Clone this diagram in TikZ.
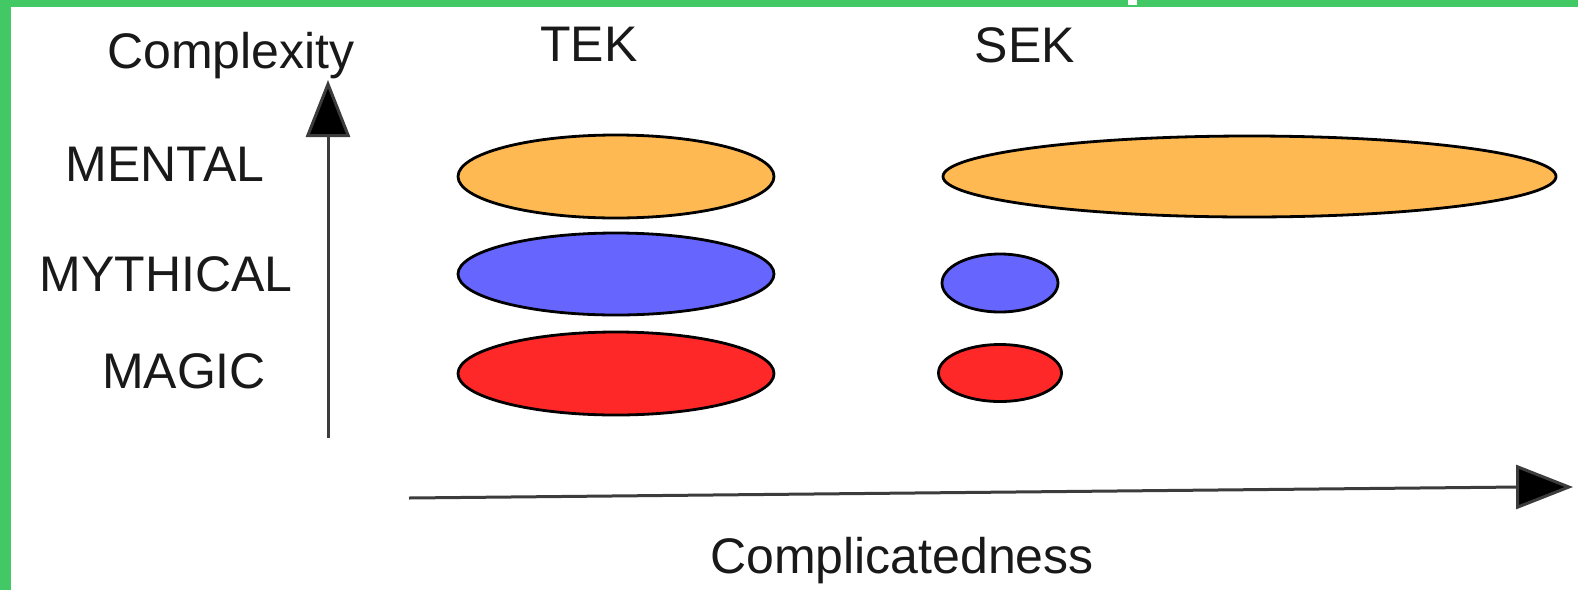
\documentclass[tikz,border=0pt]{standalone}
\usepackage{fontspec}
\setmainfont{Liberation Sans}
\usetikzlibrary{arrows.meta,shapes.geometric}
\definecolor{framegreen}{RGB}{66,201,101}
\definecolor{mentalorange}{RGB}{255,185,82}
\definecolor{mythblue}{RGB}{102,102,255}
\definecolor{magicred}{RGB}{255,40,40}
\definecolor{axisgray}{RGB}{60,60,60}
\tikzset{
  lbl/.style={inner sep=0pt, anchor=base, font=\fontsize{50}{60}\selectfont, text=black!90},
  blob/.style={ellipse, draw=black, line width=2.8pt, inner sep=0pt, minimum width=#1},
  axisline/.style={draw=axisgray, line width=3pt},
  axishead/.style={draw=axisgray, line width=3pt, -{Triangle[length=57pt,width=44pt,fill=black]}},
}
\begin{document}
\begin{tikzpicture}[x=1pt,y=-1pt]
\useasboundingbox (0,0) rectangle (1578,590);
\fill[white] (0,0) rectangle (1578,590);
% green frame (top and left)
\fill[framegreen] (0,0) rectangle (1578,7);
\fill[framegreen] (0,0) rectangle (11,590);
\fill[white] (1128,0) rectangle (1137,5);

% labels
\node[lbl] (complexity) at (231,68) {Complexity};
\node[lbl] (tek) at (589,61) {TEK};
\node[lbl] (sek) at (1025,62) {SEK};
\node[lbl] (mental) at (165,181) {MENTAL};
\node[lbl] (mythical) at (166,291) {MYTHICAL};
\node[lbl] (magic) at (184,388) {MAGIC};
\node[lbl] (complicatedness) at (902,573) {Complicatedness};

% ellipses TEK
\node[blob=316pt, minimum height=83pt, fill=mentalorange] (tekmental) at (616,176.5) {};
\node[blob=316pt, minimum height=82pt, fill=mythblue] (tekmyth) at (616,274) {};
\node[blob=316pt, minimum height=83pt, fill=magicred] (tekmagic) at (616,373.5) {};
% ellipses SEK
\node[blob=613pt, minimum height=81pt, fill=mentalorange] (sekmental) at (1249.5,176.5) {};
\node[blob=116pt, minimum height=58pt, fill=mythblue] (sekmyth) at (1000,283) {};
\node[blob=123pt, minimum height=57pt, fill=magicred] (sekmagic) at (1000,373) {};

% axes
\coordinate (vbot) at (328,438);
\coordinate (vmid) at (328,130);
\coordinate (vtop) at (328,80);
\coordinate (hleft) at (409,498);
\coordinate (hmid) at (1520,487);
\coordinate (hright) at (1573,487);
\draw[axisline] (vbot) -- (vmid);
\draw[axishead] (vmid) -- (vtop);
\draw[axisline] (hleft) -- (hmid);
\draw[axishead] (hmid) -- (hright);
\end{tikzpicture}
\end{document}
